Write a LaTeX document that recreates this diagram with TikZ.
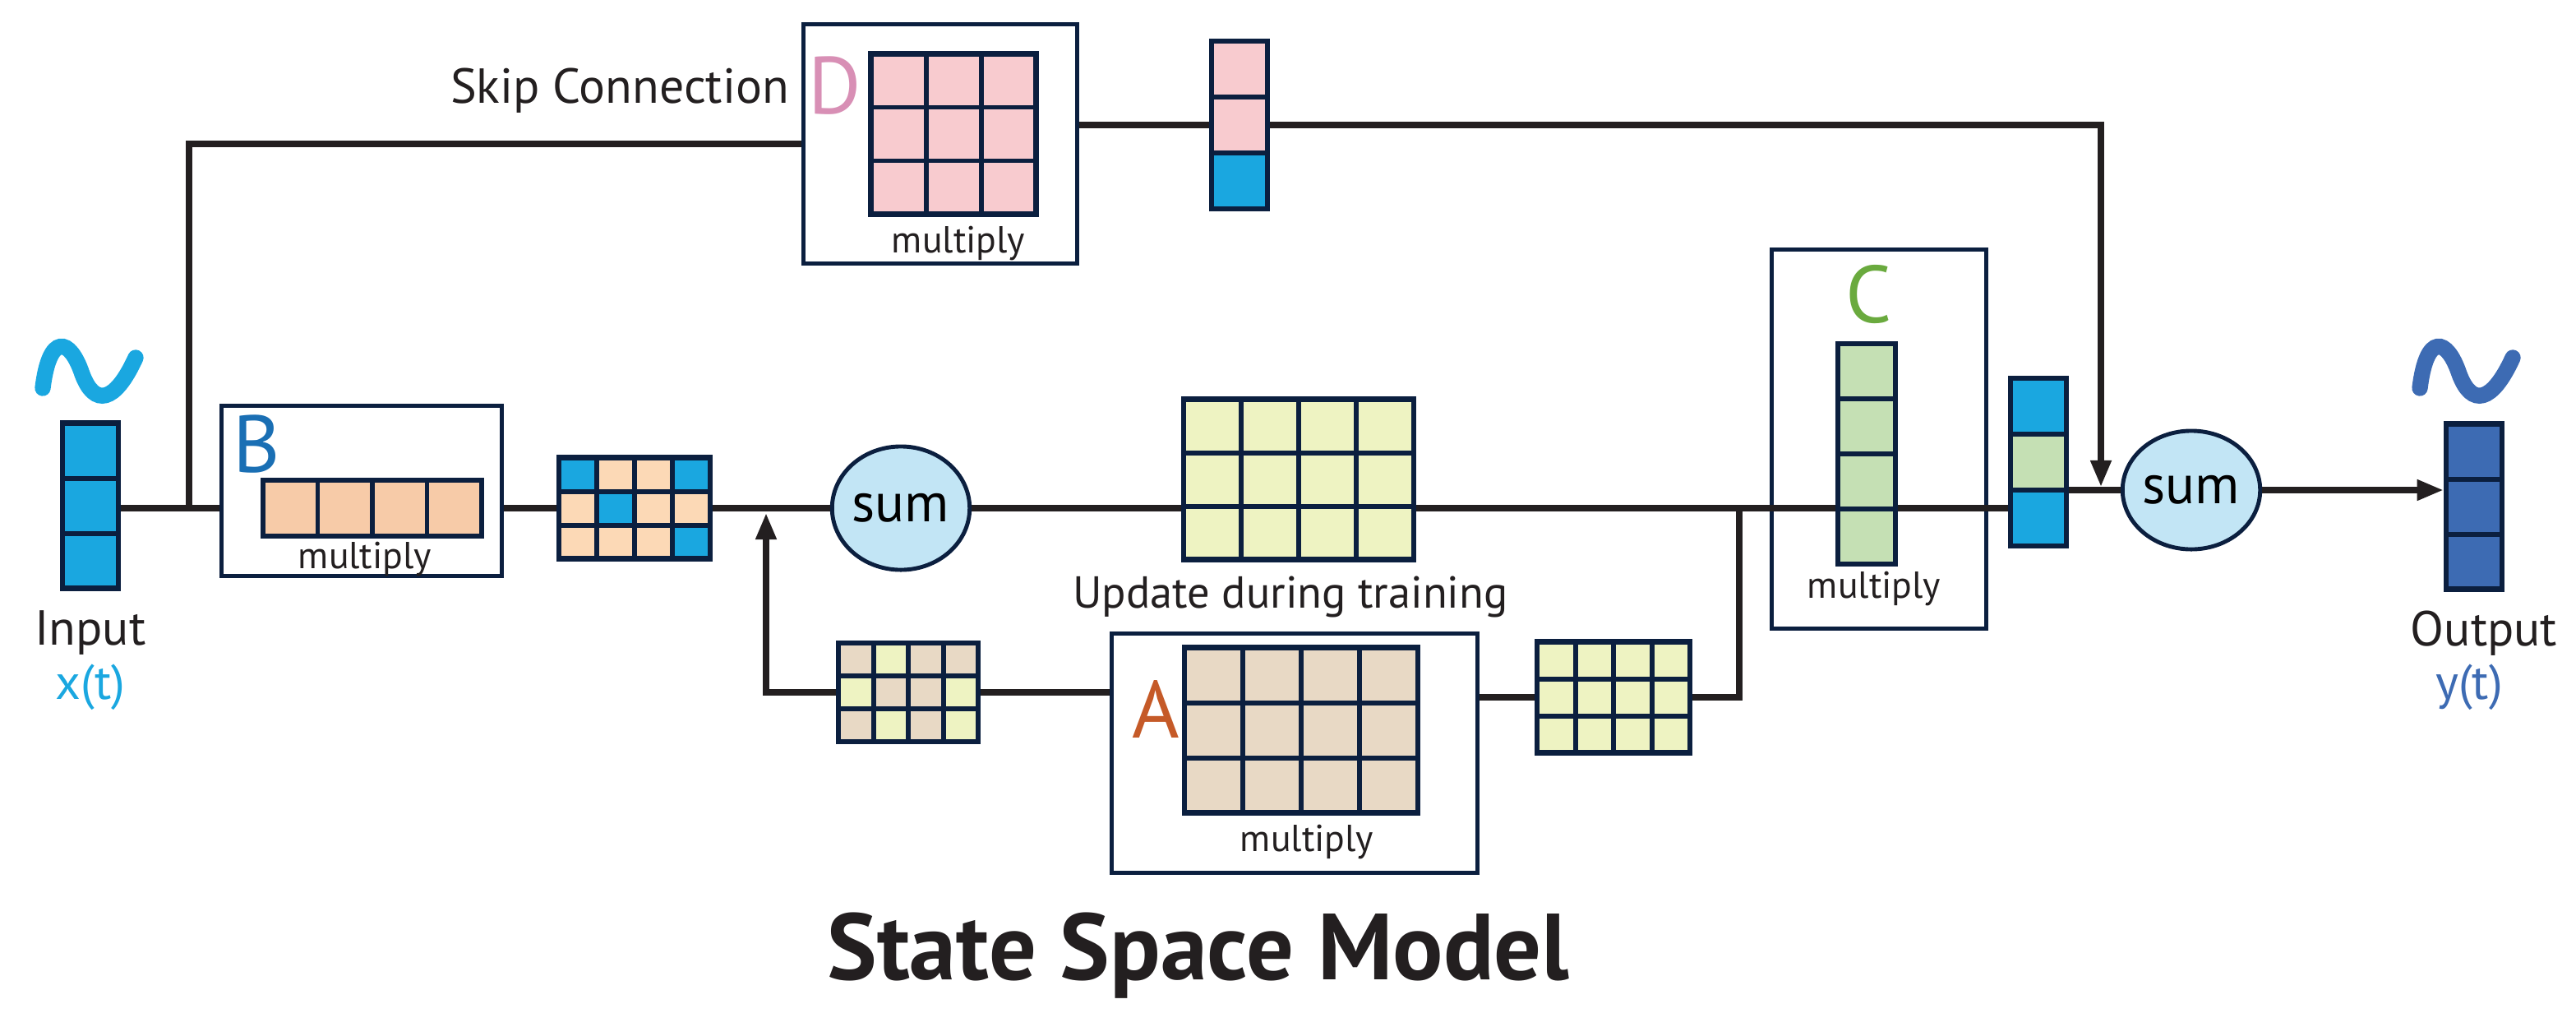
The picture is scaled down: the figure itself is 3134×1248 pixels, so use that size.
\documentclass[tikz,border=0pt]{standalone}
\usepackage{fontspec}
\setmainfont{PT Sans}
\usetikzlibrary{arrows.meta,shapes.geometric}
\definecolor{navy}{HTML}{0B1F3F}
\definecolor{cy}{HTML}{1AA7E0}
\definecolor{pk}{HTML}{F8CBCF}
\definecolor{pe}{HTML}{F7CBA8}
\definecolor{pe2}{HTML}{FCD9B6}
\definecolor{be}{HTML}{E8D9C5}
\definecolor{ye}{HTML}{EEF3C2}
\definecolor{gr}{HTML}{C5E0B4}
\definecolor{lb}{HTML}{C2E5F5}
\definecolor{ob}{HTML}{3D6BB3}
\definecolor{lA}{HTML}{C55A28}
\definecolor{lC}{HTML}{6AAA3E}
\definecolor{lD}{HTML}{D88FB5}
\definecolor{lB}{HTML}{1A6FB4}
\definecolor{ln}{HTML}{231F20}
\tikzset{
  box/.style={draw=navy,line width=1.4pt,fill=white,inner sep=0pt},
  gridb/.style={draw=navy,line width=1.9pt,inner sep=0pt},
  wire/.style={draw=ln,line width=2.1pt},
  arr/.style={wire,-{Triangle[length=0.32cm,width=0.24cm]}},
  sumn/.style={ellipse,draw=navy,line width=1.4pt,fill=lb,inner sep=0pt,font=\fontsize{19}{22}\selectfont},
  mult/.style={font=\fontsize{13}{15}\selectfont,text=ln},
  big/.style={font=\fontsize{28}{32}\selectfont},
  lbl/.style={font=\fontsize{17}{20}\selectfont,text=ln},
  tilde/.style={line width=5.5pt,line cap=round}
}
% name cx cy cw ch ncols nrows colors
\newcommand\mgrid[8]{%
  \foreach \c [count=\i from 0] in {#8}{%
    \pgfmathtruncatemacro\cc{mod(\i,#6)}%
    \pgfmathtruncatemacro\rr{\i/#6}%
    \fill[\c] ({#2-#6*#4/2+\cc*#4},{#3-#7*#5/2+\rr*#5}) rectangle ++(#4,#5);
  }%
  \foreach \k in {1,...,#6}{\ifnum\k<#6
    \draw[navy,line width=1.7pt] ({#2-#6*#4/2+\k*#4},{#3-#7*#5/2}) -- ++(0,{#7*#5});\fi}%
  \foreach \k in {1,...,#7}{\ifnum\k<#7
    \draw[navy,line width=1.7pt] ({#2-#6*#4/2},{#3-#7*#5/2+\k*#5}) -- ++({#6*#4},0);\fi}%
  \node[gridb,minimum width={#6*#4*0.01cm},minimum height={#7*#5*0.01cm}] (#1) at (#2,#3) {};
}
\newcommand\tild[3]{%
  \draw[tilde,#3] (#1-58,#2+22) .. controls (#1-50,#2-45) and (#1-25,#2-40) .. (#1-10,#2+5)
     .. controls (#1+5,#2+45) and (#1+30,#2+40) .. (#1+55,#2-15);}
\begin{document}
\begin{tikzpicture}[x=0.01cm,y=-0.01cm]
\useasboundingbox (0,0) rectangle (3134,1248);
% boxes
\node[box,minimum width=3.32cm,minimum height=2.9cm] (Dbox) at (1144,175) {};
\node[box,minimum width=3.4cm,minimum height=2.06cm] (Bbox) at (440,597) {};
\node[box,minimum width=4.44cm,minimum height=2.9cm] (Abox) at (1575,916) {};
% wires
\coordinate (j1) at (230,618);
\coordinate (j2) at (2116,618);
\coordinate (fbtip) at (932,624);
\coordinate (sktip) at (2556,592);
\mgrid{inv}{110}{615}{68}{67}{1}{3}{cy,cy,cy}
\draw[wire] (inv.east |- j1) -- (j1) -- (Bbox.west |- j1);
\draw[wire] (j1) |- (Dbox.west);
\mgrid{Bout}{772}{618}{46}{41}{4}{3}{cy,pe2,pe2,cy,pe2,cy,pe2,pe2,pe2,pe2,pe2,cy}
\node[sumn,minimum width=1.62cm,minimum height=1.5cm] (s1) at (1096,618) {sum};
\mgrid{bigY}{1580}{583}{70}{65}{4}{3}{ye,ye,ye,ye,ye,ye,ye,ye,ye,ye,ye,ye}
\draw[wire] (Bbox.east |- j1) -- (Bout.west |- j1);
\draw[wire] (Bout.east |- j1) -- (s1.west);
\draw[wire] (s1.east) -- (s1.east -| bigY.west);
\mgrid{fbL}{1105}{842}{42.5}{40}{4}{3}{be,ye,be,be,ye,be,be,ye,be,ye,be,ye}
\mgrid{fbR}{1963}{848}{46.5}{45}{4}{3}{ye,ye,ye,ye,ye,ye,ye,ye,ye,ye,ye,ye}
\draw[wire] (fbR.west) -- (fbR.west -| Abox.east);
\draw[wire] (fbL.east) -- (fbL.east -| Abox.west);
\draw[arr] (fbL.west) -| (fbtip);
% C box
\node[box,fill=none,minimum width=2.6cm,minimum height=4.6cm] (Cbox) at (2286,534) {};
\mgrid{Cv}{2271}{552}{70}{67}{1}{4}{gr,gr,gr,gr}
\draw[wire] (bigY.east |- j2) -- (j2) -- (Cv.west |- j2);
\draw[wire] (j2) |- (fbR.east);
\mgrid{ov}{2480}{562}{68}{68}{1}{3}{cy,gr,cy}
\draw[wire] (Cv.east |- j2) -- (ov.west |- j2);
\node[sumn,minimum width=1.3cm,minimum height=1.44cm] (s2) at (2666,596) {sum};
\draw[wire] (ov.east |- s2) -- (s2.west);
\mgrid{outv}{3010}{616}{68}{67}{1}{3}{ob,ob,ob}
\draw[arr] (s2.east) -- (s2.east -| outv.west);
% D
\mgrid{Dg}{1160}{163}{67}{65}{3}{3}{pk,pk,pk,pk,pk,pk,pk,pk,pk}
\mgrid{pv}{1508}{152}{68}{68}{1}{3}{pk,pk,cy}
\draw[wire] (Dbox.east |- pv) -- (pv.west);
\draw[arr] (pv.east) -| (sktip);
% B inner
\mgrid{Bv}{453}{618}{66.5}{68}{4}{1}{pe,pe,pe,pe}
\mgrid{Ag}{1583}{888}{71}{67}{4}{3}{be,be,be,be,be,be,be,be,be,be,be,be}
% letters
\node[big,text=lD] (lDn) at (1016,104) {D};
\node[big,text=lB] (lBn) at (312,540) {B};
\node[big,text=lA] (lAn) at (1406,862) {A};
\node[big,text=lC] (lCn) at (2274,358) {C};
\node[mult] (mD) at (1166,296) {multiply};
\node[mult] (mB) at (444,680) {multiply};
\node[mult] (mA) at (1590,1024) {multiply};
\node[mult] (mC) at (2280,716) {multiply};
\node[lbl,font=\fontsize{15.5}{18}\selectfont] (upd) at (1570,726) {Update during training};
\node[lbl] (skip) at (754,110) {Skip Connection};
\node[lbl] (inl) at (110,770) {Input};
\node[lbl,text=cy] (xt) at (110,836) {x(t)};
\node[lbl] (oul) at (3022,770) {Output};
\node[lbl,text=ob] (yt) at (3004,836) {y(t)};
\node[font=\fontsize{32.5}{38}\selectfont\bfseries,text=ln] (title) at (1458,1162) {State Space Model};
\tild{110}{450}{cy}
\tild{3002}{450}{ob}
\end{tikzpicture}
\end{document}
